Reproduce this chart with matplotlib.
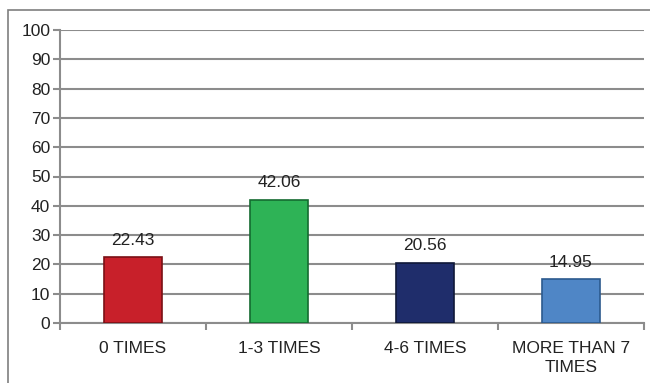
import matplotlib.pyplot as plt
from matplotlib.patches import Rectangle

categories = ['0 TIMES', '1-3 TIMES', '4-6 TIMES', 'MORE THAN 7\nTIMES']
values = [22.43, 42.06, 20.56, 14.95]
labels = ['22.43', '42.06', '20.56', '14.95']
colors = ['#C8202A', '#2EB356', '#1F2D6B', '#4F86C6']
edges = ['#7A1015', '#146B30', '#0F1838', '#2C5A8E']

plt.rcParams['font.family'] = ['Liberation Sans', 'DejaVu Sans']

fig = plt.figure(figsize=(6.5, 3.83), dpi=100)
ax = fig.add_axes([60 / 650, 1 - 323 / 383, 584 / 650, 293 / 383])

# outer chart frame
fig.patches.append(Rectangle((8 / 650, -0.1), 1.0, 1 - 10 / 383 + 0.1,
                             transform=fig.transFigure, fill=False,
                             edgecolor='#7F7F7F', linewidth=1.2))

x = list(range(len(categories)))
ax.bar(x, values, width=0.4, color=colors, edgecolor=edges, linewidth=1.2, zorder=3)
for xi, v, lab in zip(x, values, labels):
    ax.text(xi, v + 3.3, lab, ha='center', va='bottom', fontsize=12.5, color='#222222', zorder=4)

ax.set_xlim(-0.5, len(categories) - 0.5)
ax.set_ylim(0, 100)
ax.set_yticks(range(0, 101, 10))
ax.yaxis.grid(True, color='#8C8C8C', linewidth=1.5)
ax.set_axisbelow(True)

ax.set_xticks([i + 0.5 for i in range(-1, len(categories))], minor=False)
ax.set_xticklabels([])
ax.set_xticks(x, minor=True)
ax.set_xticklabels(categories, minor=True, fontsize=12.5, color='#222222', linespacing=1.3)
ax.tick_params(axis='x', which='minor', length=0, pad=13)
ax.tick_params(axis='x', which='major', length=5, color='#8C8C8C', width=1.5)
ax.tick_params(axis='y', length=5, color='#8C8C8C', width=1.5, labelsize=12.5,
               labelcolor='#222222', pad=2)

for s in ['top', 'right']:
    ax.spines[s].set_visible(False)
for s in ['left', 'bottom']:
    ax.spines[s].set_color('#8C8C8C')
    ax.spines[s].set_linewidth(1.5)

fig.savefig('out.png', dpi=100)
